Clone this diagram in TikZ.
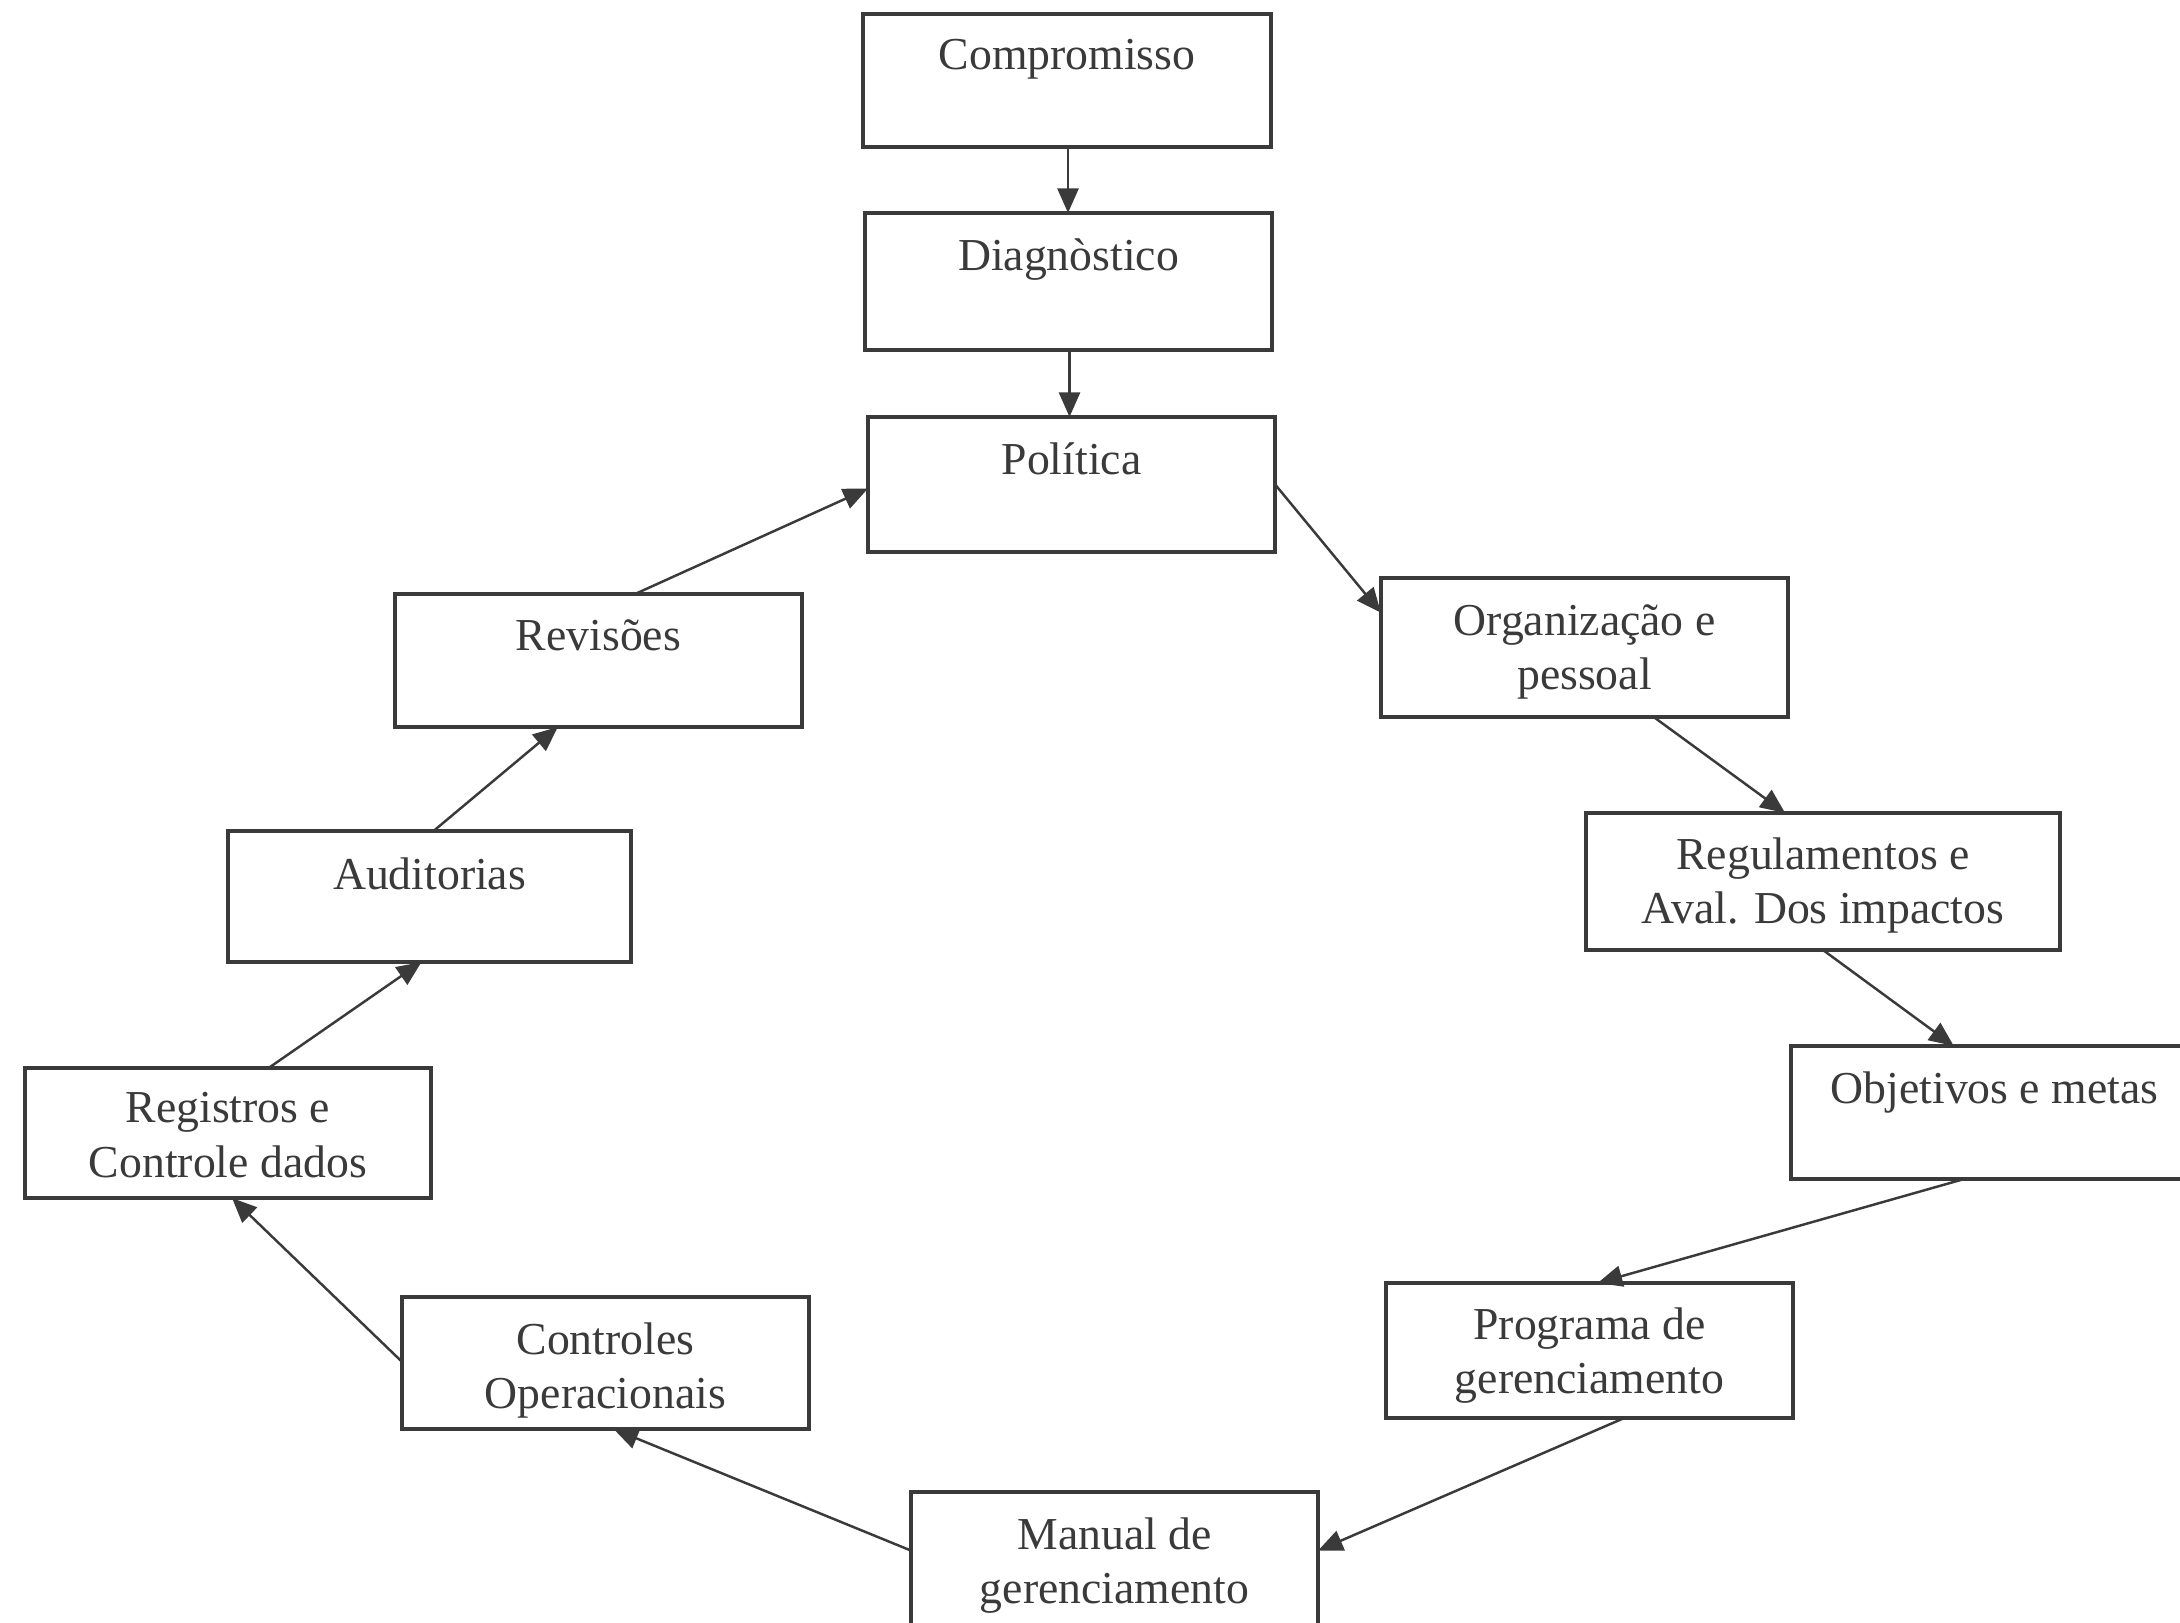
\documentclass[tikz,border=0pt]{standalone}
\usepackage{fontspec}
\setmainfont{Liberation Serif}
\usetikzlibrary{arrows.meta,calc}
\definecolor{ink}{HTML}{3A3A3A}
\begin{document}
\begin{tikzpicture}[x=0.01cm,y=-0.01cm,
  box/.style={draw=ink, line width=1.1pt, minimum width=4.07cm, minimum height=1.34cm, inner sep=0pt, outer sep=0pt},
  lbl/.style={anchor=north, inner sep=0pt, align=center, text=ink, font=\fontsize{13}{15.5}\selectfont},
  conn/.style={draw=ink, line width=0.7pt, -{Triangle[length=7pt,width=6pt]}}]
\useasboundingbox (0,0) rectangle (2180,1622);
\clip (0,0) rectangle (2180,1622);
\fill[white] (0,0) rectangle (2180,1622);
% boxes
\node[box, minimum height=1.33cm] (comp) at (1067,80.5) {};
\node[box, minimum height=1.37cm] (diag) at (1068.5,281.5) {};
\node[box, minimum height=1.35cm] (pol) at (1071.5,484.5) {};
\node[box, minimum height=1.39cm] (org) at (1584.5,647.5) {};
\node[box, minimum width=4.74cm, minimum height=1.37cm] (reg) at (1823,881.5) {};
\node[box, minimum height=1.33cm] (obj) at (1994.5,1112.5) {};
\node[box, minimum height=1.35cm] (prog) at (1589.5,1350.5) {};
\node[box, minimum height=1.33cm] (man) at (1114.5,1558.5) {};
\node[box, minimum height=1.32cm] (ctrl) at (605.5,1363) {};
\node[box, minimum width=4.06cm, minimum height=1.30cm] (regs) at (228,1133) {};
\node[box, minimum width=4.03cm, minimum height=1.31cm] (aud) at (429.5,896.5) {};
\node[box, minimum height=1.33cm] (rev) at (598.5,660.5) {};
% labels
\node[lbl] (comp-t) at ([yshift=-0.25cm]comp.north) {Compromisso};
\node[lbl] (diag-t) at ([yshift=-0.25cm]diag.north) {Diagnòstico};
\node[lbl] (pol-t) at ([yshift=-0.25cm]pol.north) {Política};
\node[lbl] (org-t) at ([yshift=-0.26cm]org.north) {Organização e\\pessoal};
\node[lbl] (reg-t) at ([yshift=-0.24cm]reg.north) {Regulamentos e\\Aval. Dos impactos};
\node[lbl] (obj-t) at ([yshift=-0.25cm]obj.north) {Objetivos e metas};
\node[lbl] (prog-t) at ([yshift=-0.24cm]prog.north) {Programa de\\gerenciamento};
\node[lbl] (man-t) at ([yshift=-0.25cm]man.north) {Manual de\\gerenciamento};
\node[lbl] (ctrl-t) at ([yshift=-0.25cm]ctrl.north) {Controles\\Operacionais};
\node[lbl] (regs-t) at ([yshift=-0.24cm]regs.north) {Registros e\\Controle dados};
\node[lbl] (aud-t) at ([yshift=-0.26cm]aud.north) {Auditorias};
\node[lbl] (rev-t) at ([yshift=-0.25cm]rev.north) {Revisões};
% connectors
\draw[conn] ([xshift=0.01cm]comp.south) -- ([xshift=0.01cm]comp.south |- diag.north);
\draw[conn] ([xshift=0.01cm]diag.south) -- ([xshift=0.01cm]diag.south |- pol.north);
\draw[conn] (pol.east) -- ($(org.north west)!0.25!(org.south west)$);
\draw[conn] ($(org.south west)!0.67!(org.south east)$) -- ($(reg.north west)!0.42!(reg.north east)$);
\draw[conn] ($(reg.south west)!0.50!(reg.south east)$) -- ($(obj.north west)!0.40!(obj.north east)$);
\draw[conn] ($(obj.south west)!0.425!(obj.south east)$) -- ($(prog.north west)!0.52!(prog.north east)$);
\draw[conn] ($(prog.south west)!0.585!(prog.south east)$) -- ($(man.north east)!0.44!(man.south east)$);
\draw[conn] ($(man.north west)!0.44!(man.south west)$) -- ($(ctrl.south west)!0.52!(ctrl.south east)$);
\draw[conn] ($(ctrl.north west)!0.49!(ctrl.south west)$) -- ($(regs.south west)!0.51!(regs.south east)$);
\draw[conn] ($(regs.north west)!0.60!(regs.north east)$) -- ($(aud.south west)!0.48!(aud.south east)$);
\draw[conn] ($(aud.north west)!0.51!(aud.north east)$) -- ($(rev.south west)!0.40!(rev.south east)$);
\draw[conn] ($(rev.north west)!0.59!(rev.north east)$) -- ($(pol.north west)!0.53!(pol.south west)$);
\end{tikzpicture}
\end{document}
